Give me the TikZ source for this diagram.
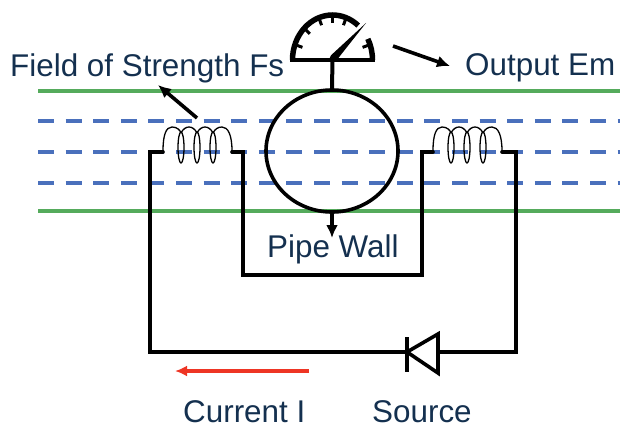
\documentclass[tikz,border=0pt]{standalone}
\usepackage{fontspec}
\setmainfont{Liberation Sans}
\usepackage{pgf,tikz}
\usetikzlibrary{arrows.meta,shapes}
\definecolor{labelblue}{HTML}{14304F}
\definecolor{wallgreen}{HTML}{55AB5C}
\definecolor{fieldblue}{HTML}{4A70BC}
\definecolor{currentred}{HTML}{EE3524}
\tikzstyle{wire}=[draw,black,line width=3.6pt,line cap=round,line join=miter]
\tikzstyle{wall}=[draw,wallgreen,line width=3.4pt]
\tikzstyle{field}=[draw,fieldblue,line width=3.2pt,dash pattern=on 16pt off 11.6pt]
\tikzstyle{pointer}=[draw,black,line width=3.6pt,-{Latex[length=13pt,width=12pt]}]
\tikzstyle{thin wire}=[draw,black,line width=1.3pt]
\tikzstyle{caption}=[anchor=base west,inner sep=0pt,text=labelblue,font=\fontsize{31.4}{36}\selectfont]
\newcommand{\coil}[1]{%
  \begin{scope}[shift={#1}]
    \path[thin wire] (0,0) .. controls (0,-16) and (3,-24) .. (9,-24) .. controls (14,-24) and (17,-21) .. (18,-18);
    \foreach \dx in {18,34}{
      \path[thin wire] (\dx,-18) .. controls (\dx+2,-22) and (\dx+5,-24) .. (\dx+8,-24) .. controls (\dx+11,-24) and (\dx+14,-22) .. (\dx+16,-18);
    }
    \foreach \dx in {18,34,50}
      \path[thin wire] (\dx,-3.5) ellipse [x radius=3pt,y radius=15.5pt];
    \path[thin wire] (50,-18) .. controls (52,-22) and (55,-24) .. (59,-24) .. controls (65,-24) and (69,-16) .. (69,0);
  \end{scope}}

\begin{document}
\begin{tikzpicture}[x=1pt,y=-1pt]
    \useasboundingbox (0,0) rectangle (620,428);
    % pipe walls and field lines
    \foreach \x/\y/\name in {38/91/walla, 620/91/wallb, 38/211/wallc, 620/211/walld,
        38/121/fielda, 620/121/fieldb, 38/152/fieldc, 620/152/fieldd, 38/183/fielde, 620/183/fieldf}
        \coordinate (\name) at (\x,\y);
    \foreach \from/\dest in {walla/wallb, wallc/walld}
        \path[wall] (\from) -- (\dest);
    \foreach \from/\dest in {fielda/fieldb, fieldc/fieldd, fielde/fieldf}
        \path[field] (\from) -- (\dest);
    % circuit
    \foreach \x/\y/\name in {150/152/a, 163/152/b, 232/152/c, 243/152/d, 243/275/e, 422/275/f,
        422/152/g, 433/152/h, 502/152/i, 516/152/j, 516/352/k, 438/352/l, 407/352/m, 150/352/n}
        \coordinate (\name) at (\x,\y);
    \path[wire] (b) -- (a) -- (n) -- (m);
    \path[wire] (c) -- (d) -- (e) -- (f) -- (g) -- (h);
    \path[wire] (i) -- (j) -- (k) -- (l);
    \coil{(163,151)}
    \coil{(433,151)}
    % diode
    \coordinate (bar top) at (407,337);
    \coordinate (bar bottom) at (407,372);
    \coordinate (tri top) at (438,334);
    \coordinate (tri bottom) at (438,373);
    \path[wire,line cap=butt] (bar top) -- (bar bottom);
    \path[wire,line cap=butt,line join=miter] (m) -- (tri top) -- (tri bottom) -- cycle;
    % pipe and gauge
    \node[ellipse,draw,line width=3.6pt,minimum width=132pt,minimum height=122pt,inner sep=0pt] (pipe) at (332,151) {};
    \coordinate (gauge) at (332.5,60);
    \coordinate (gauge left) at (290,60);
    \coordinate (gauge right) at (375,60);
    \path[wire,line width=4pt,line cap=butt] (gauge) -- (pipe.north);
    \path[wire,line cap=butt] (gauge left) -- (gauge right);
    \draw[line width=5.5pt] (292.5,60) arc [start angle=180,end angle=50,x radius=40pt,y radius=45pt];
    \draw[line width=5.5pt] (372.5,60) arc [start angle=0,end angle=28,x radius=40pt,y radius=45pt];
    \foreach \a in {20,70,90,110,135,160}
        \draw[line width=3pt] (gauge) ++(\a:38pt and 43pt) -- ++(\a:-6pt);
    \coordinate (needle tip) at (366,23);
    \fill (needle tip) -- (336,61) arc [start angle=-50,end angle=-230,radius=3.8pt] -- cycle;
    % pointers
    \foreach \x/\y/\name in {197/118/fsa, 158/85/fsb, 393/46/ema, 450/66/emb, 332/238/wallp,
        309/371/cura, 175/371/curb}
        \coordinate (\name) at (\x,\y);
    \path[pointer] (fsa) -- (fsb);
    \path[pointer] (ema) -- (emb);
    \path[pointer] (pipe.south) -- (wallp);
    \path[draw,currentred,line width=3.4pt,-{Latex[length=12pt,width=11pt]}] (cura) -- (curb);
    % labels
    \foreach \pos/\name/\txt in {{(10,76)/fs/Field of Strength Fs}, {(465,75)/em/Output Em}, {(267,257)/pw/Pipe Wall},
        {(183,422)/cu/Current I}, {(372,422)/so/Source}}
        \node[caption] (\name) at \pos {\txt};
\end{tikzpicture}
\end{document}
